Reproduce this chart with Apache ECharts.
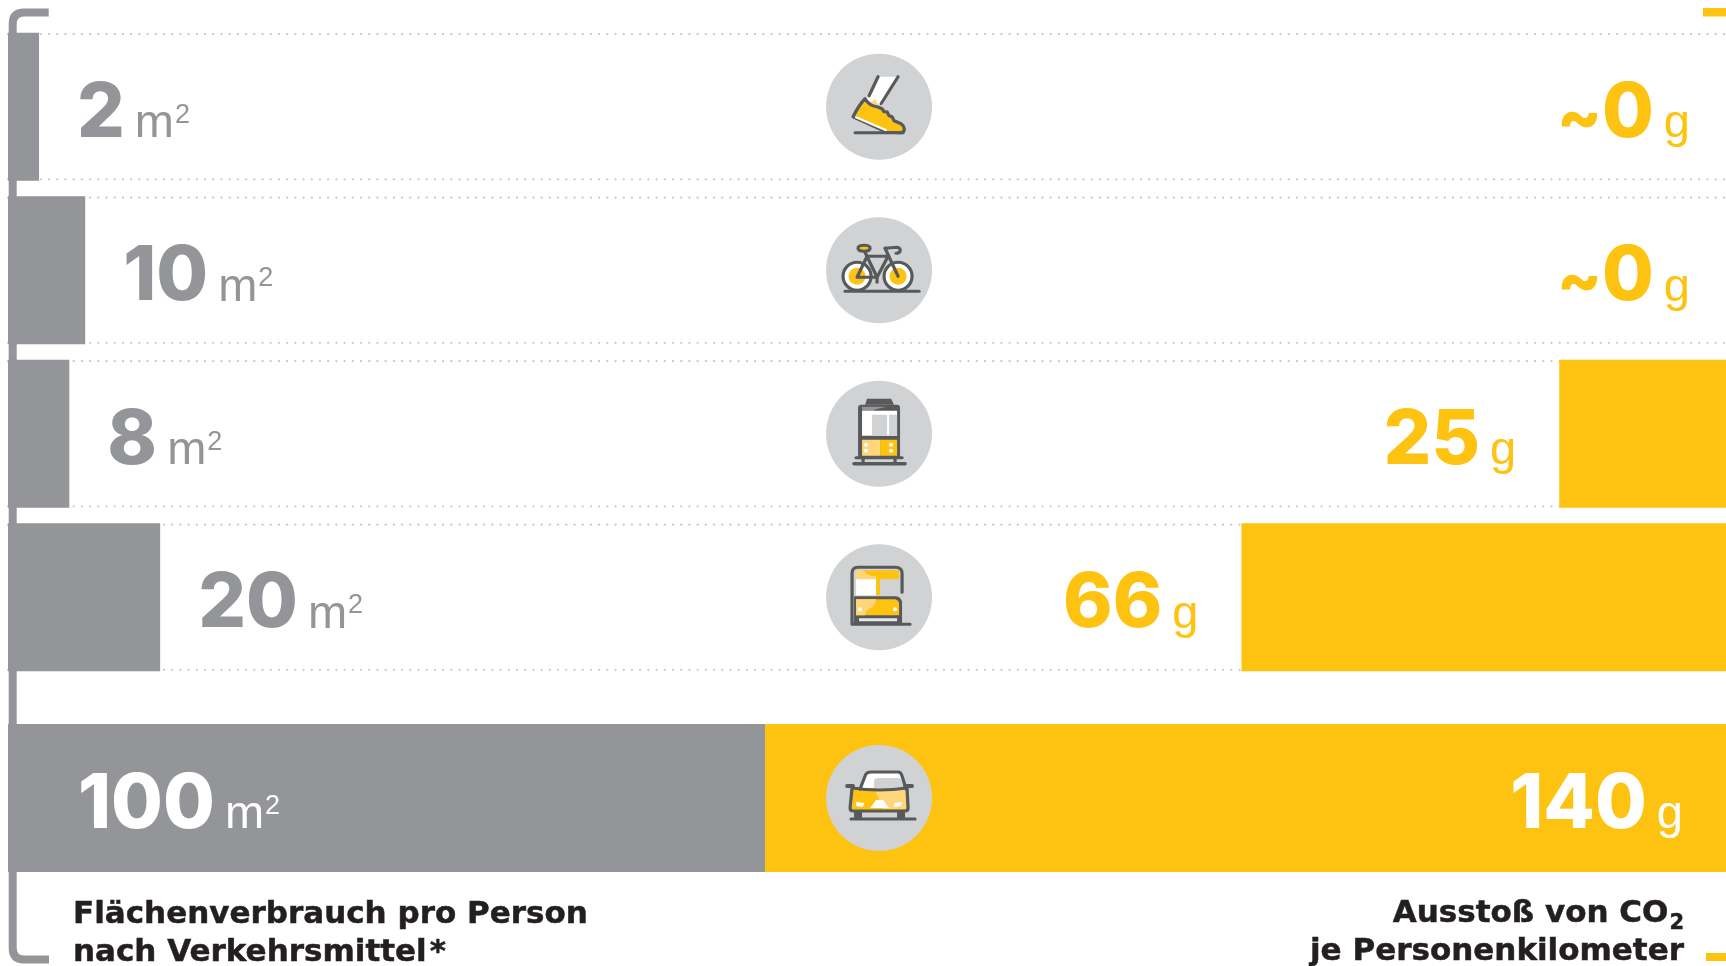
<!DOCTYPE html>
<html>
<head>
<meta charset="utf-8">
<style>html,body{margin:0;padding:0;background:#fff}#c{width:1726px;height:966px}</style>
<script src="https://cdn.jsdelivr.net/npm/echarts@6/dist/echarts.min.js"></script>
</head>
<body>
<div id="c"></div>
<script>
// ---- data ----
const rowModes = ['shoe', 'bike', 'tram', 'bus'];
const carMode = ['car'];
const areaLabels = ['2', '10', '8', '20'];
// bar lengths (the "2" bar is drawn wider than its label)
const areaBars = [4.1, 10.2, 8.1, 20.1];
const carAreaLabel = '100';
const carAreaBar = [100];
const co2Labels = ['~0', '~0', '25', '66'];
const co2Bars = [0, 0, 25, 66];
const carCo2Label = '140';
const carCo2Bar = [140];
const areaUnit = '{u|m}{s|2}';
const co2Unit = '{u|g}';
const leftTitle = ['Flächenverbrauch pro Person', 'nach Verkehrsmittel\u200a*'];
const rightTitle = ['{a|Ausstoß von CO}{b|2}', '{a|je Personenkilometer}'];

// ---- style ----
const GREY = '#939598', YEL = '#fec311', CIRC = '#d1d2d4', DARK = '#58595b', LY = '#ffd67a', INK = '#231f20';
const FONT = 'Inter, "Liberation Sans", Arial, sans-serif';
const UFONT = '"Liberation Sans", Arial, sans-serif';
const TFONT = '"DejaVu Sans", "Liberation Sans", sans-serif';
const DOT = '#c8c9cb';

function lab(v, unit, color, position, distance) {
  const num = v.charAt(0) === '~' ? '{t|~}{v|' + v.slice(1) + '}' : '{v|' + v + '}';
  return {
    show: true, position, distance, offset: [0, 5], formatter: num + unit,
    rich: {
      t: { fontFamily: FONT, fontWeight: 800, fontSize: 66, color, lineHeight: 80, verticalAlign: 'bottom' },
      v: { fontFamily: FONT, fontWeight: 800, fontSize: 75, color, lineHeight: 80, verticalAlign: 'bottom' },
      u: { fontFamily: UFONT, fontSize: 47, color, padding: [0, 0, 4, 10], lineHeight: 80, verticalAlign: 'bottom' },
      s: { fontFamily: UFONT, fontSize: 27, color, padding: [0, 0, 23, 1], lineHeight: 80, verticalAlign: 'bottom' }
    }
  };
}
const zip = (vals, labels, fn) => vals.map((value, i) => ({ value, label: fn(labels[i], i) }));

// ---- icons (local pixels around the circle centre) ----
const S = 3.2;
const P = (d, fill, stroke, w, cap) => ({ type: 'path', shape: { pathData: d }, style: { fill: fill || 'none', stroke: stroke || 'none', lineWidth: w == null ? S : w, lineCap: cap || 'round', lineJoin: 'round' } });
const C = (x, y, r, fill, stroke, w) => ({ type: 'circle', shape: { cx: x, cy: y, r }, style: { fill: fill || 'none', stroke: stroke || 'none', lineWidth: w == null ? S : w } });
const icons = {
  shoe: [
    P('M-1 -30 L19 -30 L3 -1 L-13 -7 Z', '#fff'),
    P('M-8 -4 L-3 -1 L0 0 L-4 -8 Z', LY),
    P('M-1 -30 L-10 -11', null, DARK), P('M19 -30 L2 -3', null, DARK),
    P('M-26 10 Q-20 -2 -14 -8 Q-10 -1 -2 0 L3 2 L5 5 L8 5 L10 9 L13 10 L15 14 L22 17 Q26 20 25 24 Q24 26 21 26 L8 25.5 Z', YEL, DARK),
    P('M-23 10.5 L7 23.5', null, '#fff', 2.2),
    P('M-24 26 L24 26', null, DARK)
  ],
  bike: [
    C(-22, 6, 14, '#fff', DARK), C(19, 6, 14, '#fff', DARK),
    C(-22, 6, 8.5, YEL), C(19, 6, 8.5, YEL),
    P('M-34 21 L40 21', null, DARK),
    P('M-22 7 L-12 -14 L9 -14 L-2 7 Z', null, DARK),
    P('M-15 -20 L-2 7 L-2 12', null, DARK),
    P('M6 -22 L19 6', null, DARK),
    P('M6 -22 L18 -23 Q22 -22 21 -19 Q20 -17 17 -17', null, DARK),
    P('M-21 -22 Q-21 -25 -15 -25 Q-9 -25 -9 -22 Q-9 -19 -15 -19 Q-21 -19 -21 -22 Z', YEL, DARK)
  ],
  tram: [
    P('M-14 -29 L-12 -35 L12 -35 L15 -29 Z', DARK),
    P('M-21 24 L-21 -26 Q-21 -29 -18 -29 L18 -29 Q21 -29 21 -26 L21 24 Z', DARK),
    P('M-17 -27 L7 -27 L-5 -24 L-5 -23 L-17 -23 Z', GREY),
    P('M-17 -23 L18 -23 L18 2 L-17 2 Z', '#fff'),
    P('M-7 -19 L8 -19 L8 2 L-7 2 Z', CIRC), P('M10 -19 L18 -19 L18 2 L10 2 Z', CIRC),
    P('M-17 6 L1 6 L1 22 L-17 22 Z', LY), P('M1 6 L18 6 L18 22 L1 22 Z', YEL),
    C(-13, 11, 2, '#fff'), C(-13, 17, 2, '#fff'), C(12, 11, 2, '#fff'), C(12, 17, 2, '#fff'),
    P('M-23 24 L23 24', null, DARK),
    P('M-16 24 L-16 30', null, DARK), P('M16 24 L16 30', null, DARK),
    P('M-25 30 L26 30', null, DARK, 3.6)
  ],
  bus: [
    P('M-23 -27 L20 -27 L20 -18 L1 -18 L1 -2 L-3 -2 L-3 -18 L-23 -18 Z', YEL),
    P('M-23 -27 L-15 -27 Q-13 -21 -3 -21 L-3 -18 L-23 -18 Z', LY),
    P('M-23 -18 L-3 -18 L-3 -2 L-23 -2 Z', '#fff'),
    P('M-25 -1 L17 -1 Q23 0 23 6 L23 27 L-25 27 Z', DARK),
    P('M-23 2 L16 2 Q20 3 20 7 L20 18 L-23 18 Z', YEL),
    P('M-23 2 L-3 2 Q-3 8 -9 11 Q-14 14 -14 18 L-23 18 Z', LY),
    P('M23 -5 L23 -24 Q23 -30 16 -30 L-21 -30 Q-27 -30 -27 -24 L-27 27 L31 27', null, DARK),
    P('M-20 21 L18 21 L18 24 L-20 24 Z', '#e6e7e8'),
    C(-19, 12, 2, '#fff'), C(16, 12, 2, '#fff')
  ],
  car: [
    P('M-19 -9 L-14 -22 Q-13 -26 -8 -26 L19 -26 Q22 -26 23 -22 L27 -9 Z', '#fff'),
    P('M-5 -8 L-5 -17 Q-5 -20 -1 -20 L20 -20 Q22 -20 23 -17 L26 -8 Z', CIRC),
    P('M-26 -10 L26 -10 L27 12 L-27 12 Z', YEL),
    P('M-5 -10 L26 -10 L27 11 L4 11 Z', LY),
    P('M-19 -9 L-14 -22 Q-13 -26 -8 -26 L8 -26 L19 -26 Q22 -26 23 -22 L27 -9', null, DARK),
    P('M-27 -10 Q0 -6 28 -10 L29 10 Q29 13 26 13 L-26 13 Q-29 13 -29 10 Z', null, DARK),
    P('M-32 -12 L-26 -12 M26 -12 L33 -12', null, DARK, 3.8),
    P('M-23 4 L-15 5 L-16 9 L-23 8 Z', '#fff'),
    P('M15 5 L23 4 L22 8 L15 9 Z', '#fff'),
    P('M-9 10 L-3 2 L4 2 L10 10 Z', '#fff'),
    P('M-25 14 L-17 14 L-17 21 L-25 21 Z', DARK),
    P('M18 14 L26 14 L26 21 L18 21 Z', DARK),
    P('M-28 21 L36 21', null, DARK, 3.2)
  ]
};

const iconAxisPos = 115.06; // circle column, in units of the area axis
function renderIcon(params, api) {
  const idx = api.value(1);
  const p = api.coord([iconAxisPos, idx]);
  const name = api.value(2) === 0 ? rowModes[idx] : carMode[idx];
  return { type: 'group', x: p[0], y: p[1], children: [C(0, 0, 53, CIRC)].concat(icons[name]) };
}
const halfBand = 72.6;
function renderDots(params, api) {
  const idx = api.value(1);
  const y = api.coord([0, idx])[1];
  const cs = params.coordSys;
  const ln = yy => ({ type: 'line', shape: { x1: cs.x, y1: yy, x2: cs.x + cs.width, y2: yy }, style: { stroke: DOT, lineWidth: 2.3, lineDash: [0.01, 8.2], lineCap: 'round' } });
  return { type: 'group', children: [ln(y - halfBand), ln(y + halfBand)] };
}
function renderBracket() {
  return P('M48.7 12.5 L24 12.5 Q12.7 12.5 12.7 24 L12.7 948 Q12.7 959.5 24 959.5 L49 959.5', null, GREY, 8, 'butt');
}

const titleStyle = { fontFamily: TFONT, fontWeight: 'bold', fontSize: 31, fill: INK, stroke: INK, lineWidth: 0.5 };
const titleRich = {
  a: { fontFamily: TFONT, fontWeight: 'bold', fontSize: 31, fill: INK, stroke: INK, lineWidth: 0.5, lineHeight: 38, verticalAlign: 'bottom', padding: [0, 0, 5, 0] },
  b: { fontFamily: TFONT, fontWeight: 'bold', fontSize: 21, fill: INK, stroke: INK, lineWidth: 0.5, lineHeight: 38, verticalAlign: 'bottom', padding: [0, 0, 0, 1] }
};
const option = {
  animation: false,
  backgroundColor: '#fff',
  grid: [
    { left: 8, width: 1745, top: 25, height: 654, outerBoundsMode: 'none' },
    { left: 8, width: 1745, top: 698, height: 200, outerBoundsMode: 'none' }
  ],
  xAxis: [
    { gridIndex: 0, type: 'value', min: 0, max: 230.5, show: false, position: 'bottom' },
    { gridIndex: 0, type: 'value', min: 0, max: 225.16, inverse: true, show: false, position: 'top' },
    { gridIndex: 1, type: 'value', min: 0, max: 230.5, show: false, position: 'bottom' },
    { gridIndex: 1, type: 'value', min: 0, max: 225.16, inverse: true, show: false, position: 'top' }
  ],
  yAxis: [
    { gridIndex: 0, type: 'category', data: rowModes, inverse: true, show: false },
    { gridIndex: 1, type: 'category', data: carMode, inverse: true, show: false }
  ],
  series: [
    { type: 'custom', coordinateSystem: 'none', z: 0, silent: true, renderItem: renderBracket, data: [[0]] },
    { type: 'custom', coordinateSystem: 'cartesian2d', xAxisIndex: 0, yAxisIndex: 0, z: 1, silent: true,
      renderItem: renderDots, data: rowModes.map((m, i) => [0, i]), encode: { x: 0, y: 1 } },
    { type: 'bar', xAxisIndex: 1, yAxisIndex: 0, z: 2, barWidth: 148, barGap: '-100%', itemStyle: { color: YEL },
      data: zip(co2Bars, co2Labels, (t, i) => lab(t, co2Unit, YEL, 'left', co2Bars[i] === 0 ? 63 : 43)) },
    { type: 'bar', xAxisIndex: 0, yAxisIndex: 0, z: 3, barWidth: 148, barGap: '-100%', itemStyle: { color: GREY },
      data: zip(areaBars, areaLabels, t => lab(t, areaUnit, GREY, 'right', 38)) },
    { type: 'bar', xAxisIndex: 3, yAxisIndex: 1, z: 2, barWidth: 148, barGap: '-100%', itemStyle: { color: YEL },
      data: [{ value: carCo2Bar[0], label: lab(carCo2Label, co2Unit, '#fff', 'insideRight', 70) }] },
    { type: 'bar', xAxisIndex: 2, yAxisIndex: 1, z: 3, barWidth: 148, barGap: '-100%', itemStyle: { color: GREY },
      data: [{ value: carAreaBar[0], label: lab(carAreaLabel, areaUnit, '#fff', 'insideLeft', 70) }] },
    { type: 'custom', coordinateSystem: 'cartesian2d', xAxisIndex: 0, yAxisIndex: 0, z: 10, silent: true,
      renderItem: renderIcon, data: rowModes.map((m, i) => [0, i, 0]), encode: { x: 0, y: 1 } },
    { type: 'custom', coordinateSystem: 'cartesian2d', xAxisIndex: 2, yAxisIndex: 1, z: 10, silent: true,
      renderItem: renderIcon, data: carMode.map((m, i) => [0, i, 1]), encode: { x: 0, y: 1 } }
  ],
  graphic: [
    { type: 'rect', shape: { x: 1703, y: 8, width: 23, height: 8.5 }, style: { fill: YEL } },
    { type: 'rect', shape: { x: 1706, y: 953, width: 20, height: 8 }, style: { fill: YEL } }
  ].concat(
    leftTitle.map((t, i) => ({ type: 'text', x: 73, y: 915 + i * 38, style: Object.assign({ text: t, align: 'left', verticalAlign: 'middle' }, titleStyle) })),
    rightTitle.map((t, i) => ({ type: 'text', x: 1684, y: 915 + i * 38, style: Object.assign({ text: t, align: 'right', verticalAlign: 'middle', rich: titleRich }, titleStyle) }))
  )
};
echarts.init(document.getElementById('c')).setOption(option);
</script>
</body>
</html>
